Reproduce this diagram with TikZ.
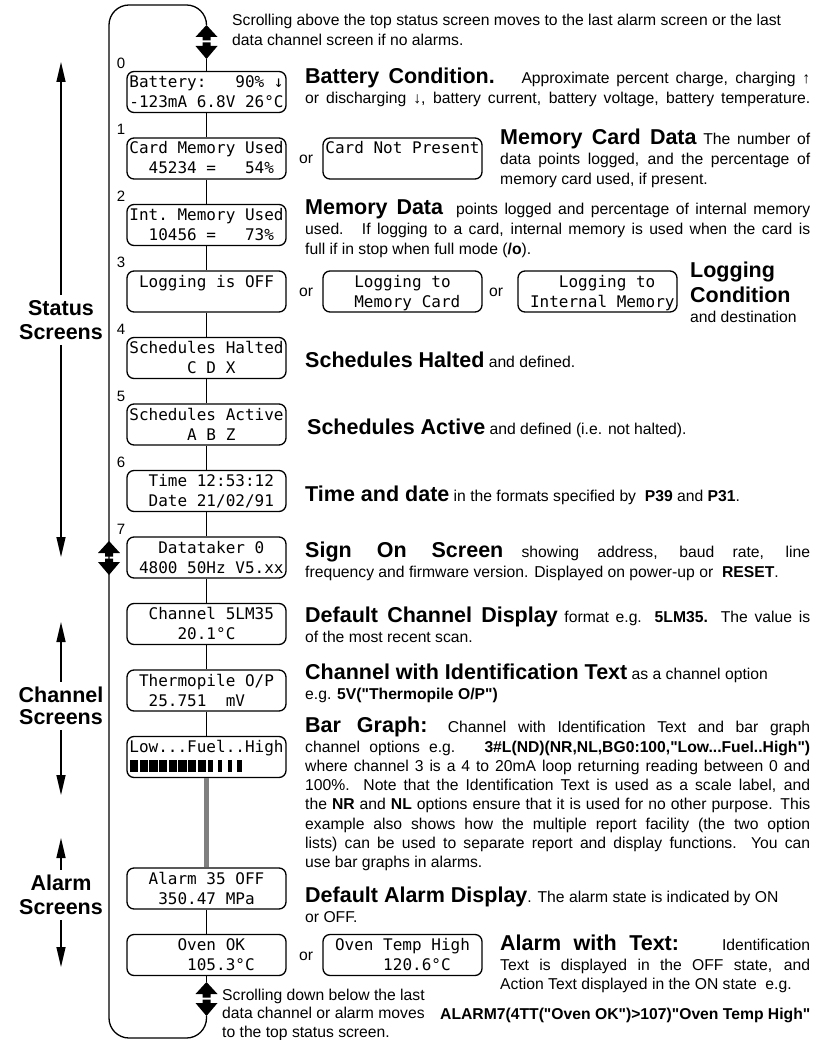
\documentclass[tikz,border=0pt]{standalone}
\usepackage{fontspec}
\setmainfont{Liberation Sans}[Ligatures=TeXOff]
\newfontfamily\lcdfont{DejaVu Sans Mono}
\usetikzlibrary{arrows.meta}
\newlength\lcdw
\setlength\lcdw{154.13pt}
\newcommand\jl[2][505pt]{\makebox[#1][s]{#2}}
\newcommand\ttl[1]{{\fontsize{21.5}{19.3}\selectfont\bfseries #1}}
\newcommand\lcdl[1]{\makebox[\lcdw][l]{\rule[-4pt]{0pt}{19pt}#1}}
\newcommand\lcdsize{\fontsize{16}{20}\selectfont}
\newcommand\dblarrow[2]{%
  \fill (#1,#2) -- ++(11,12) -- ++(-7,0) -- ++(0,3.5) -- ++(-8,0) -- ++(0,-3.5) -- ++(-7,0) -- cycle;
  \fill (#1-4,#2+17.5) -- ++(8,0) -- ++(0,3.5) -- ++(7,0) -- (#1,#2+34) -- (#1-11,#2+21) -- ++(7,0) -- cycle;}
\tikzset{
  screen/.style={draw, line width=1.3pt, rounded corners=7pt, minimum width=159pt, minimum height=41pt, inner sep=0pt, align=center, font=\lcdfont\lcdsize\frenchspacing},
  desc/.style={anchor=base west, inner sep=0pt, align=left, font=\fontsize{15.7}{19.3}\selectfont},
  link/.style={line width=1.3pt},
  greylink/.style={line width=4.5pt, draw=black!50},
  side/.style={font=\fontsize{21.5}{24}\selectfont\bfseries, align=center, inner xsep=0pt, inner ysep=5pt},
  sidearrow/.style={line width=1.3pt, -{Triangle[length=20pt,width=9pt]}},
  num/.style={font=\fontsize{15}{15}\selectfont, inner sep=0pt, anchor=base},
  orlbl/.style={font=\fontsize{15.7}{19}\selectfont, inner sep=0pt},
}
\begin{document}
\begin{tikzpicture}[x=1pt, y=-1pt]
\useasboundingbox (0,0) rectangle (822,1040);

% ---------- screens, left column
\node[screen] (s0) at (206.5,92) {\lcdl{Battery:~~~90\%~↓}\\\lcdl{-123mA~6.8V~26°C}};
\node[screen] (s1) at (206.5,158.5) {\lcdl{Card~Memory~Used}\\\lcdl{~~45234~=~~~54\%}};
\node[screen] (s2) at (206.5,225) {\lcdl{Int.~Memory~Used}\\\lcdl{~~10456~=~~~73\%}};
\node[screen] (s3) at (206.5,291.5) {\lcdl{~Logging~is~OFF}\\\lcdl{}};
\node[screen] (s4) at (206.5,358) {\lcdl{Schedules~Halted}\\\lcdl{~~~~~~C~D~X}};
\node[screen] (s5) at (206.5,424.5) {\lcdl{Schedules~Active}\\\lcdl{~~~~~~A~B~Z}};
\node[screen] (s6) at (206.5,491) {\lcdl{~~Time~12:53:12}\\\lcdl{~~Date~21/02/91}};
\node[screen] (s7) at (206.5,557.5) {\lcdl{~~~Datataker~0}\\\lcdl{~4800~50Hz~V5.xx}};
\node[screen] (sch) at (206.5,624) {\lcdl{~~Channel~5LM35}\\\lcdl{~~~~~20.1°C}};
\node[screen] (sth) at (206.5,690.5) {\lcdl{~Thermopile~O/P}\\\lcdl{~~25.751~~mV}};
\node[screen] (sbar) at (206.5,757) {\lcdl{Low...Fuel..High}\\\lcdl{}};
\node[screen] (sa35) at (206.5,888.5) {\lcdl{~~Alarm~35~OFF}\\\lcdl{~~~350.47~MPa}};
\node[screen] (soven) at (206.5,955) {\lcdl{~~~~~Oven~OK}\\\lcdl{~~~~~~105.3°C}};

% ---------- alternative screens
\node[screen] (cardnp) at (402.5,158.5) {\lcdl{Card~Not~Present}\\\lcdl{}};
\node[screen] (logcard) at (402.5,291.5) {\lcdl{~~~Logging~to}\\\lcdl{~~~Memory~Card}};
\node[screen] (logint) at (597.5,291.5) {\lcdl{~~~~Logging~to}\\\lcdl{~Internal~Memory}};
\node[screen] (soventh) at (402.5,955) {\lcdl{~Oven~Temp~High}\\\lcdl{~~~~~~120.6°C}};

\node[orlbl] (or1) at (306,159.5) {or};
\node[orlbl] (or2) at (306,292.5) {or};
\node[orlbl] (or3) at (496,292.5) {or};
\node[orlbl] (or4) at (306,956) {or};

% bar graph blocks
\foreach \i in {0,...,7} \fill (129.44+9.633*\i+0.7,760) rectangle ++(8.2,12);
\foreach \i in {8,...,11} \fill (129.44+9.633*\i+1.8,760) rectangle ++(4.5,12);

% ---------- screen numbers
\node[num] (n0) at (121,68.5) {0};
\node[num] (n1) at (121,135) {1};
\node[num] (n2) at (121,201.5) {2};
\node[num] (n3) at (121,268) {3};
\node[num] (n4) at (121,334.5) {4};
\node[num] (n5) at (121,401) {5};
\node[num] (n6) at (121,467.5) {6};
\node[num] (n7) at (121,534) {7};

% ---------- connectors
\coordinate (topA) at (206.5,25);
\coordinate (topB) at (206.5,59);
\coordinate (botA) at (206.5,982);
\coordinate (botB) at (206.5,1016);
\draw[link] (topB) -- (s0);
\draw[link] (s0) -- (s1);
\draw[link] (s1) -- (s2);
\draw[link] (s2) -- (s3);
\draw[link] (s3) -- (s4);
\draw[link] (s4) -- (s5);
\draw[link] (s5) -- (s6);
\draw[link] (s6) -- (s7);
\draw[link] (s7) -- (sch);
\draw[link] (sch) -- (sth);
\draw[link] (sth) -- (sbar);
\draw[greylink] (sbar) -- (sa35);
\draw[link] (sa35) -- (soven);
\draw[link] (soven) -- (botA);
\draw[link, rounded corners=20pt] (botB) -- (206.5,1038) -- (109,1038) -- (109,5) -- (206.5,5) -- (topA);
\dblarrow{206.5}{25}
\dblarrow{206.5}{982}
\dblarrow{109}{541}

% ---------- side labels
\node[side] (lstat) at (61,320) {Status\\Screens};
\coordinate (stTop) at (61,62);
\coordinate (stBot) at (61,557);
\draw[sidearrow] (lstat) -- (stTop);
\draw[sidearrow] (lstat) -- (stBot);
\node[side, font=\fontsize{21.5}{22}\selectfont\bfseries] (lchan) at (61,706) {Channel\\Screens};
\coordinate (chTop) at (61,622);
\coordinate (chBot) at (61,795);
\draw[sidearrow] (lchan) -- (chTop);
\draw[sidearrow] (lchan) -- (chBot);
\node[side] (lalarm) at (61,895) {Alarm\\Screens};
\coordinate (alTop) at (61,838);
\coordinate (alBot) at (61,967);
\draw[sidearrow] (lalarm) -- (alTop);
\draw[sidearrow] (lalarm) -- (alBot);

% ---------- descriptions (anchored at the baseline of their last line)
\node[desc] (dTop) at (232,45.3) {Scrolling above the top status screen moves to the last alarm screen or the last\\data channel screen if no alarms.};
\node[desc] (dBat) at (305,104) {\jl{\ttl{Battery Condition.}~~ Approximate percent charge, charging ↑}\\[0.7pt]\jl{or discharging ↓, battery current, battery voltage, battery temperature.}};
\node[desc] (dCard) at (500,184.3) {\jl[310pt]{\ttl{Memory Card Data} The number of}\\[0.7pt]\jl[310pt]{data points logged, and the percentage of}\\memory card used, if present.};
\node[desc] (dMem) at (305,254.3) {\jl{\ttl{Memory Data}~ points logged and percentage of internal memory}\\[0.7pt]\jl{used.~ If logging to a card, internal memory is used when the card is}\\full if in stop when full mode (\textbf{/o}).};
\node[desc, font=\fontsize{15.7}{24}\selectfont] (dLog) at (690,322) {\ttl{Logging}\\\ttl{Condition}\\[-4pt]and destination};
\node[desc] (dHalt) at (305,367) {\ttl{Schedules Halted} and defined.};
\node[desc] (dAct) at (307,434) {\ttl{Schedules Active} and defined (i.e. not halted).};
\node[desc] (dTime) at (305,501) {\ttl{Time and date} in the formats specified by~ \textbf{P39} and \textbf{P31}.};
\node[desc] (dSign) at (305,577) {\jl{\ttl{Sign On Screen} showing address, baud rate, line}\\[0.7pt]frequency and firmware version. Displayed on power-up or~ \textbf{RESET}.};
\node[desc] (dChan) at (305,642) {\jl{\ttl{Default Channel Display} format e.g. \textbf{5LM35.} The value is}\\[0.7pt]of the most recent scan.};
\node[desc] (dIdent) at (305,699) {\ttl{Channel with Identification Text} as a channel option\\[0.7pt]e.g. \textbf{5V("Thermopile O/P")}};
\node[desc] (dBar) at (305,867.8) {\jl{\ttl{Bar Graph:} Channel with Identification Text and bar graph}\\[0.7pt]%
\jl{channel options e.g.~ \textbf{3\#L(ND)(NR,NL,BG0:100,"Low...Fuel..High")}}\\%
\jl{where channel 3 is a 4 to 20mA loop returning reading between 0 and}\\%
\jl{100\%. Note that the Identification Text is used as a scale label, and}\\%
\jl{the \textbf{NR} and \textbf{NL} options ensure that it is used for no other purpose. This}\\%
\jl{example also shows how the multiple report facility (the two option}\\%
\jl{lists) can be used to separate report and display functions. You can}\\%
use bar graphs in alarms.};
\node[desc] (dAlarm) at (305,922) {\ttl{Default Alarm Display}. The alarm state is indicated by ON\\[0.7pt]or OFF.};
\node[desc] (dAText) at (500,989.3) {\jl[310pt]{\ttl{Alarm with Text:}~~~ Identification}\\[0.7pt]\jl[310pt]{Text is displayed in the OFF state, and}\\Action Text displayed in the ON state~ e.g.};
\node[desc] (dAlEx) at (440,1019) {\textbf{ALARM7(4TT("Oven OK")>107)"Oven Temp High"}};
\node[desc, font=\fontsize{15.7}{18.5}\selectfont] (dBot) at (222,1037) {Scrolling down below the last\\data channel or alarm moves\\to the top status screen.};
\end{tikzpicture}
\end{document}
